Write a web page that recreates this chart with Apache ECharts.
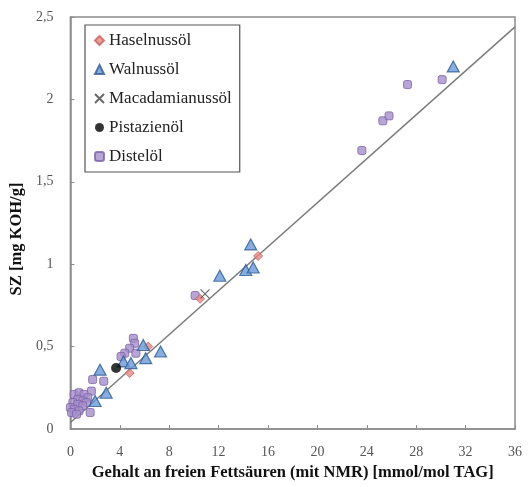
<!DOCTYPE html>
<html>
<head>
<meta charset="utf-8">
<script src="https://cdn.jsdelivr.net/npm/echarts@6/dist/echarts.min.js"></script>
<style>
  html, body { margin: 0; padding: 0; background: #fff; }
  #chart { width: 529px; height: 487px; }
</style>
</head>
<body>
<div id="chart"></div>
<script>
// Free fatty acid content (NMR, mmol/mol TAG) vs. acid value SZ (mg KOH/g)
var haselnuss = [[4.8, 0.34], [6.3, 0.50], [10.5, 0.79], [15.2, 1.05]];
var walnuss = [
  [2.0, 0.17], [2.9, 0.22], [2.4, 0.36], [4.3, 0.41], [4.9, 0.40],
  [5.9, 0.51], [6.1, 0.43], [7.3, 0.47], [12.1, 0.93], [14.2, 0.965],
  [14.8, 0.98], [14.6, 1.12], [31.0, 2.20]
];
var macadamia = [[10.9, 0.82]];
var pistazie = [[3.7, 0.37]];
var distel = [
  [23.6, 1.69], [25.3, 1.87], [25.8, 1.90], [27.3, 2.09], [30.1, 2.12],
  [10.1, 0.81],
  [5.1, 0.55], [5.2, 0.52], [4.8, 0.49], [4.4, 0.46], [5.3, 0.46], [4.1, 0.44],
  [1.8, 0.30], [2.7, 0.29], [1.7, 0.23],
  [0.3, 0.21], [0.7, 0.22], [1.1, 0.21], [1.4, 0.19], [0.6, 0.18], [1.0, 0.17],
  [1.3, 0.16], [0.2, 0.16], [0.6, 0.15], [1.0, 0.14], [0.0, 0.13], [0.3, 0.12],
  [0.7, 0.11], [0.1, 0.10], [0.5, 0.09], [1.6, 0.10]
];
// linear fit through the data
var fitLine = [[0, 0.04], [36, 2.44]];

var xTicks = { min: 0, max: 36, interval: 4 };
var yTicks = { min: 0, max: 2.5, interval: 0.5 };

var serifFont = '"Liberation Serif", "DejaVu Serif", serif';
var crossPath = 'path://M0,0L10,10M10,0L0,10';

var chart = echarts.init(document.getElementById('chart'), null, { renderer: 'canvas' });
chart.setOption({
  animation: false,
  backgroundColor: '#ffffff',
  grid: { left: 67, right: 14, top: 17, bottom: 58, show: true, borderColor: '#8c8c8c', borderWidth: 1.5 },
  legend: {
    orient: 'vertical',
    left: 85,
    top: 25,
    data: ['Haselnussöl', 'Walnussöl', 'Macadamianussöl', 'Pistazienöl', 'Distelöl'],
    backgroundColor: '#fff',
    borderColor: '#555',
    borderWidth: 1.2,
    padding: [7, 8, 7, 9],
    itemGap: 12,
    itemWidth: 9,
    itemHeight: 9,
    textStyle: { fontFamily: serifFont, fontSize: 17, color: '#222' }
  },
  xAxis: {
    type: 'value',
    min: xTicks.min, max: xTicks.max, interval: xTicks.interval,
    name: 'Gehalt an freien Fettsäuren (mit NMR) [mmol/mol TAG]',
    nameLocation: 'middle',
    nameGap: 33,
    nameTextStyle: { fontFamily: serifFont, fontWeight: 'bold', fontSize: 16.5, color: '#111' },
    axisLine: { lineStyle: { color: '#8c8c8c', width: 1.5 } },
    axisTick: { inside: true, length: 4, lineStyle: { color: '#8c8c8c' } },
    axisLabel: { fontFamily: serifFont, fontSize: 14, color: '#555', margin: 16 },
    splitLine: { show: false }
  },
  yAxis: {
    type: 'value',
    min: yTicks.min, max: yTicks.max, interval: yTicks.interval,
    name: 'SZ [mg KOH/g]',
    nameLocation: 'middle',
    nameGap: 41,
    nameTextStyle: {
      fontFamily: serifFont, fontWeight: 'bold', fontSize: 16.5, color: '#111',
      padding: [0, 32, 0, 0]
    },
    axisLine: { lineStyle: { color: '#8c8c8c', width: 1.5 } },
    axisTick: { inside: true, length: 4, lineStyle: { color: '#8c8c8c' } },
    axisLabel: {
      fontFamily: serifFont, fontSize: 14, color: '#555', margin: 17,
      formatter: function (v) { return String(v).replace('.', ','); }
    },
    splitLine: { show: false }
  },
  series: [
    {
      name: 'fit', type: 'line', data: fitLine, symbol: 'none', silent: true,
      lineStyle: { color: '#7a7a7a', width: 1.4 }, z: 1
    },
    {
      name: 'Distelöl', type: 'scatter', data: distel, symbol: 'roundRect', symbolSize: 8,
      itemStyle: { color: '#a58fcc', borderColor: '#7d63a6', borderWidth: 1 }, z: 2
    },
    {
      name: 'Haselnussöl', type: 'scatter', data: haselnuss, symbol: 'diamond', symbolSize: 9,
      itemStyle: { color: '#e58a86', borderColor: '#c9605c', borderWidth: 1 }, z: 3
    },
    {
      name: 'Walnussöl', type: 'scatter', data: walnuss, symbol: 'triangle', symbolSize: [12, 11],
      itemStyle: { color: '#6a9ad8', borderColor: '#2f5b94', borderWidth: 1.2 }, z: 4
    },
    {
      name: 'Macadamianussöl', type: 'scatter', data: macadamia, symbol: crossPath, symbolSize: 9,
      itemStyle: { color: 'transparent', borderColor: '#444', borderWidth: 1.2 }, z: 5
    },
    {
      name: 'Pistazienöl', type: 'scatter', data: pistazie, symbol: 'circle', symbolSize: 10,
      itemStyle: { color: '#000' }, z: 6
    }
  ]
});
</script>
</body>
</html>
